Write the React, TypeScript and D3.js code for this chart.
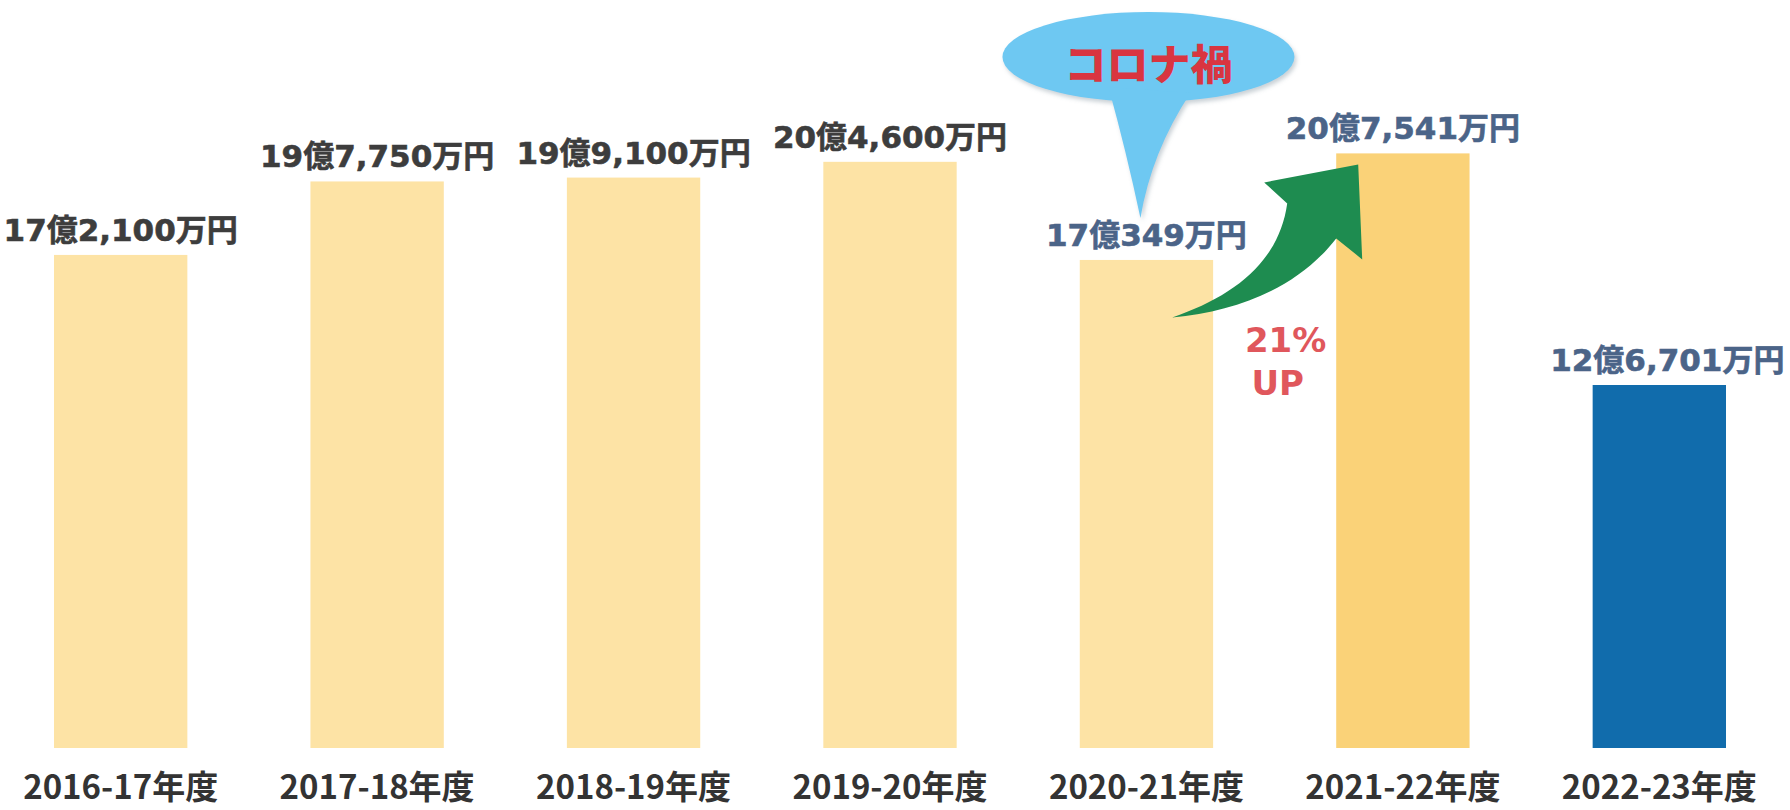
import React from "react";
import * as d3 from "d3";

const categories = ["2016-17年度", "2017-18年度", "2018-19年度", "2019-20年度", "2020-21年度", "2021-22年度", "2022-23年度"];
const values = [17.21, 19.775, 19.91, 20.46, 17.0349, 20.7541, 12.6701]; // 億円
const valueLabels = ["17億2,100万円", "19億7,750万円", "19億9,100万円", "20億4,600万円", "17億349万円", "20億7,541万円", "12億6,701万円"];
const barColors = ["#FDE3A5", "#FDE3A5", "#FDE3A5", "#FDE3A5", "#FDE3A5", "#FAD278", "#116CAC"];
const labelColors = ["#3d3d3d", "#3d3d3d", "#3d3d3d", "#3d3d3d", "#4b6488", "#4b6488", "#4b6488"];
const bubbleText = "コロナ禍";
const upText = ["21%", "UP"];

const W = 1790;
const H = 810;
const BASE = 748;

export default function App() {
  const x = d3.scaleBand<string>().domain(categories).range([54, 1726]).paddingInner(0.48).paddingOuter(0);
  const y = d3.scaleLinear().domain([0, 26]).range([BASE, BASE - 26 * 28.65]);
  const bw = x.bandwidth();
  const latin = "'DejaVu Sans', 'Noto Sans CJK JP', sans-serif";
  const cjk = "'Noto Sans CJK JP', sans-serif";

  // annotation anchors from scales
  const c5 = (x(categories[4]) as number) + bw / 2;
  const l6 = x(categories[5]) as number;
  const t6 = y(values[5]);
  const r5 = (x(categories[4]) as number) + bw;

  // arrow (relative to bar6 left/top)
  const ax = l6, ay = t6;
  const P = (dx: number, dy: number) => `${ax + dx},${ay + dy}`;
  const arrowPath =
    `M${P(-164, 164)} C${P(-102, 143)} ${P(-57, 108)} ${P(-49, 50)} ` +
    `L${P(-72, 29)} L${P(22, 11)} L${P(26, 106)} L${P(0, 85)} ` +
    `C${P(-37, 133)} ${P(-97, 158)} ${P(-164, 164)} Z`;

  const bx = c5 + 2, by = 57;
  const tailPath = `M${bx - 40},${by + 30} Q${bx - 22},${by + 95} ${bx - 8},${by + 161} Q${bx + 3},${by + 95} ${bx + 42},${by + 36} Z`;

  const upX = (r5 + l6) / 2 + 3;

  return (
    <svg width={W} height={H} style={{ position: "absolute", left: 0, top: 0, background: "#fff" }}>
      <defs>
        <filter id="sh" x="-20%" y="-20%" width="140%" height="160%">
          <feDropShadow dx="2" dy="3" stdDeviation="2" floodColor="#8a9aa5" floodOpacity="0.45" />
        </filter>
      </defs>
      <rect width={W} height={H} fill="#fff" />
      {categories.map((c, i) => (
        <rect key={c} x={x(c)} y={y(values[i])} width={bw} height={BASE - y(values[i])} fill={barColors[i]} />
      ))}
      {categories.map((c, i) => (
        <text key={"v" + c} x={(x(c) as number) + bw / 2 + (i === 6 ? 8 : 0)} y={y(values[i]) - 14}
          textAnchor="middle" fontFamily={latin} fontWeight={700} fontSize={31} fill={labelColors[i]}
          stroke={labelColors[i]} strokeWidth={0.6}>
          {valueLabels[i]}
        </text>
      ))}
      {categories.map((c) => (
        <text key={"x" + c} x={(x(c) as number) + bw / 2} y={799} textAnchor="middle"
          fontFamily={cjk} fontWeight={700} fontSize={33} fill="#333">
          {c}
        </text>
      ))}
      {/* speech bubble */}
      <g filter="url(#sh)">
        <ellipse cx={bx} cy={by} rx={146} ry={45} fill="#6EC8F2" />
        <path d={tailPath} fill="#6EC8F2" />
      </g>
      <text x={bx} y={80} textAnchor="middle" fontFamily={cjk} fontWeight={900} fontSize={42} fill="#D93540">
        {bubbleText}
      </text>
      {/* green arrow */}
      <path d={arrowPath} fill="#1E8C50" />
      <text x={upX + 8} y={352} textAnchor="middle" fontFamily={latin} fontWeight={700} fontSize={34} fill="#E0575C">
        {upText[0]}
      </text>
      <text x={upX} y={395} textAnchor="middle" fontFamily={latin} fontWeight={700} fontSize={34} fill="#E0575C">
        {upText[1]}
      </text>
    </svg>
  );
}
